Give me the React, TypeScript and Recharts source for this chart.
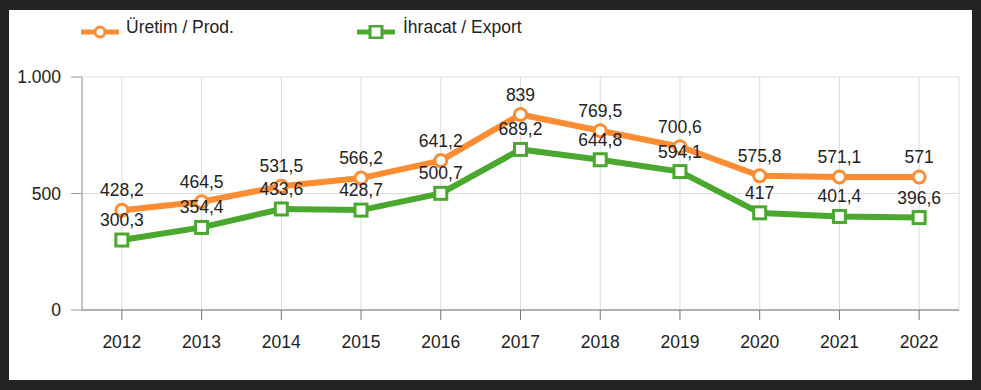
import React from 'react';
import { LineChart, Line, XAxis, YAxis, CartesianGrid, Legend, LabelList } from 'recharts';

const years = ['2012', '2013', '2014', '2015', '2016', '2017', '2018', '2019', '2020', '2021', '2022'];
const production = [428.2, 464.5, 531.5, 566.2, 641.2, 839, 769.5, 700.6, 575.8, 571.1, 571];
const exports = [300.3, 354.4, 433.6, 428.7, 500.7, 689.2, 644.8, 594.1, 417, 401.4, 396.6];
const yTicks = [0, 500, 1000];

const ORANGE = '#fd8c32';
const GREEN = '#4aa82e';
const FONT = '"Liberation Sans", Arial, sans-serif';
const FS = 17.5;

const data = years.map((year, i) => ({ year, prod: production[i], exp: exports[i] }));

const fmtNum = (v: number) => String(v).replace('.', ',');
const fmtTick = (v: number) => v.toLocaleString('de-DE');

const SquareDot = (props: any) => {
  const { cx, cy, key } = props;
  if (cx == null || cy == null) return null;
  return <rect key={key} x={cx - 6} y={cy - 6} width={12} height={12} fill="#fff" stroke={GREEN} strokeWidth={3} />;
};

const LegendContent = () => (
  <div style={{ position: 'relative', height: 30, fontFamily: FONT, fontSize: FS, color: '#222' }}>
    <svg width={40} height={14} style={{ position: 'absolute', left: 72, top: 15 }}>
      <line x1={0} y1={7} x2={38} y2={7} stroke={ORANGE} strokeWidth={5} />
      <circle cx={19} cy={7} r={5} fill="#fff" stroke={ORANGE} strokeWidth={3} />
    </svg>
    <span style={{ position: 'absolute', left: 117, top: 7 }}>Üretim / Prod.</span>
    <svg width={40} height={14} style={{ position: 'absolute', left: 348, top: 15 }}>
      <line x1={0} y1={7} x2={38} y2={7} stroke={GREEN} strokeWidth={5} />
      <rect x={13} y={1} width={12} height={12} fill="#fff" stroke={GREEN} strokeWidth={3} />
    </svg>
    <span style={{ position: 'absolute', left: 394, top: 7 }}>İhracat / Export</span>
  </div>
);

export default function App() {
  return (
    <div style={{ position: 'fixed', left: 0, top: 0, width: 981, height: 390, background: '#232323' }}>
      <div style={{ position: 'absolute', left: 9, top: 10, width: 963, height: 370, background: '#fff' }}>
        <LineChart width={963} height={370} data={data} margin={{ top: 37, right: 13, left: 0, bottom: 0 }}>
          <CartesianGrid stroke="#dcdcdc" strokeWidth={1} />
          <XAxis
            dataKey="year"
            scale="band"
            height={70}
            tickSize={10}
            tickMargin={16}
            stroke="#777"
            tick={{ fill: '#222', fontSize: FS, fontFamily: FONT }}
          />
          <YAxis
            width={73}
            domain={[0, 1000]}
            ticks={yTicks}
            tickFormatter={fmtTick}
            tickSize={11}
            tickMargin={10}
            stroke="#999"
            tick={{ fill: '#222', fontSize: FS, fontFamily: FONT }}
          />
          <Legend verticalAlign="top" content={LegendContent} wrapperStyle={{ top: 0, left: 0, width: 963, height: 30 }} />
          <Line
            dataKey="prod"
            stroke={ORANGE}
            strokeWidth={6}
            dot={{ r: 6, fill: '#fff', stroke: ORANGE, strokeWidth: 3 }}
            activeDot={false}
            isAnimationActive={false}
          >
            <LabelList dataKey="prod" position="top" offset={14} formatter={fmtNum} fill="#222" fontSize={FS} fontFamily={FONT} />
          </Line>
          <Line
            dataKey="exp"
            stroke={GREEN}
            strokeWidth={6}
            dot={SquareDot}
            activeDot={false}
            isAnimationActive={false}
          >
            <LabelList dataKey="exp" position="top" offset={14} formatter={fmtNum} fill="#222" fontSize={FS} fontFamily={FONT} />
          </Line>
        </LineChart>
      </div>
    </div>
  );
}
